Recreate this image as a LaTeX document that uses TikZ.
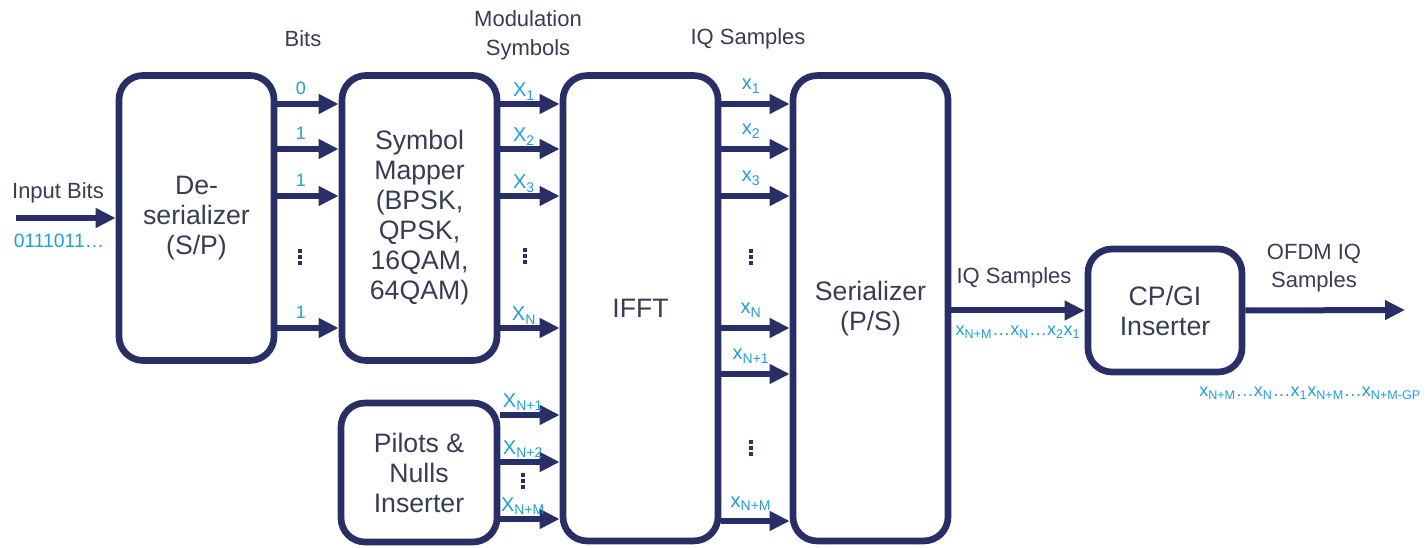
\documentclass[tikz,border=0pt]{standalone}
\usepackage{fontspec}
\setmainfont{Liberation Sans}
\usetikzlibrary{arrows.meta}
\definecolor{navy}{RGB}{40,47,102}
\definecolor{inktext}{RGB}{56,60,84}
\definecolor{sigblue}{RGB}{34,158,210}
\newcommand{\sbs}[1]{\textsubscript{#1}}

\begin{document}
\begin{tikzpicture}[x=0.75pt,y=-0.75pt,
  block/.style={draw=navy, line width=5pt, rounded corners=18pt, fill=white,
    inner sep=0pt, align=center, text=inktext,
    font=\fontsize{20}{22.5}\selectfont},
  sig/.style={draw=navy, line width=4.5pt, -{Triangle[length=15pt,width=14pt]}},
  lbl/.style={text=inktext, align=center, inner sep=0pt,
    font=\fontsize{16.5}{21.5}\selectfont},
  bitlbl/.style={text=sigblue, inner sep=0pt, anchor=base,
    font=\fontsize{13.5}{15}\selectfont},
  symlbl/.style={text=sigblue, inner sep=0pt, anchor=base,
    font=\fontsize{15}{17}\selectfont},
  seqlbl/.style={text=sigblue, inner sep=0pt,
    font=\fontsize{13.5}{16}\selectfont},
  vdotsmark/.pic={
    \fill[navy] (-2.3,-8.3) rectangle (2.3,-3.7);
    \fill[navy] (-2.3,-2.3) rectangle (2.3,2.3);
    \fill[navy] (-2.3,3.7) rectangle (2.3,8.3);
  }
]
\useasboundingbox (0,0) rectangle (1426,548);

% processing blocks
\node[block, minimum width=116.25pt, minimum height=213.75pt] (des) at (196.5,218)
  {De-\\serializer\\(S/P)};
\node[block, minimum width=116.25pt, minimum height=213.75pt] (sym) at (419.5,218)
  {Symbol\\Mapper\\(BPSK,\\QPSK,\\16QAM,\\64QAM)};
\node[block, minimum width=117pt, minimum height=104.25pt] (pil) at (419,472.5)
  {Pilots \&\\Nulls\\Inserter};
\node[block, minimum width=116.25pt, minimum height=349pt] (ifft) at (640.5,308.25)
  {IFFT};
\node[block, minimum width=116.25pt, minimum height=349pt] (ser) at (870.5,308.25)
  {Serializer\\(P/S)};
\node[block, minimum width=115.5pt, minimum height=92.25pt] (cp) at (1165,310.5)
  {CP/GI\\Inserter};

% input bit stream
\coordinate (inp) at (16,218);
\draw[sig] (inp) -- (des.west |- inp);
\node[lbl] (inlbl) at (58,193) {Input Bits};
\node[seqlbl, font=\fontsize{14.5}{16}\selectfont] (inseq) at (59,241) {0111011…};

% parallel bits
\node[lbl] (bitshead) at (303,39) {Bits};
\foreach \y/\b [count=\i] in {104/0,149/1,196/1,328/1} {
  \coordinate (b\i) at (0,\y);
  \draw[sig] (des.east |- b\i) -- (sym.west |- b\i);
  \node[bitlbl] at (301,\y-9) {\b};
}
\pic at (300,257) {vdotsmark};

% modulation symbols
\node[lbl] (modhead) at (528,35) {Modulation\\Symbols};
\foreach \y/\s [count=\i] in {104/1,149/2,196/3,328/N} {
  \coordinate (m\i) at (0,\y);
  \draw[sig] (sym.east |- m\i) -- (ifft.west |- m\i);
  \node[symlbl] at (524,\y-7) {X\sbs{\s}};
}
\pic at (525,256) {vdotsmark};

% pilot and null subcarriers
\foreach \y/\s [count=\i] in {415/N+1,462/N+2,519/N+M} {
  \coordinate (p\i) at (0,\y);
  \draw[sig] (pil.east |- p\i) -- (ifft.west |- p\i);
  \node[symlbl] at (523,\y-8) {X\sbs{\s}};
}
\pic at (523,481) {vdotsmark};

% time-domain IQ samples
\node[lbl] (iqhead) at (748,39) {IQ Samples};
\foreach \y/\s [count=\i] in {104/1,149/2,196/3,328/N,374/N+1,521/N+M} {
  \coordinate (q\i) at (0,\y);
  \draw[sig] (ifft.east |- q\i) -- (ser.west |- q\i);
  \node[symlbl, font=\fontsize{15}{16}\selectfont] at (751,\y-14) {x\sbs{\s}};
}
\pic at (751,257) {vdotsmark};
\pic at (751,448) {vdotsmark};

% serial stream and guard interval insertion
\draw[sig] (ser.east |- cp.west) -- (cp.west);
\node[lbl] (iqser) at (1014,278) {IQ Samples};
\node[seqlbl, anchor=base] (serseq) at (1018,336)
  {x\sbs{N+M}…x\sbs{N}…x\sbs{2}x\sbs{1}};

\coordinate (out) at (1405,310);
\draw[sig] (cp.east) -- (out);
\node[lbl] (ofdmhead) at (1314,268) {OFDM IQ\\Samples};
\node[seqlbl, anchor=base west] (ofdmseq) at (1199,397)
  {x\sbs{N+M}…x\sbs{N}…x\sbs{1}x\sbs{N+M}…x\sbs{N+M-GP}};
\end{tikzpicture}
\end{document}
